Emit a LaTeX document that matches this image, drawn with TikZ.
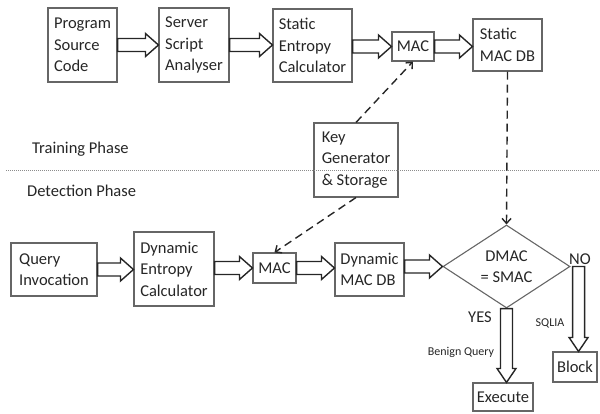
\documentclass[tikz,border=0pt]{standalone}
\usepackage{fontspec}
\setmainfont{Carlito}
\usepackage{tikz}
\usetikzlibrary{shapes.geometric,arrows.meta,calc}

\begin{document}
\begin{tikzpicture}[
    x=1pt, y=1pt,
    every node/.style={text=black!85, font=\fontsize{16.5}{21.5}\selectfont},
    box/.style={rectangle, draw=black!60, line width=1.1pt, align=left, inner sep=3pt},
    decision/.style={diamond, draw=black!60, line width=1.1pt, align=center, inner sep=0pt, aspect=1.5},
    phase/.style={anchor=west, inner sep=0pt},
    lbl/.style={inner sep=0pt},
    small/.style={inner sep=0pt, font=\fontsize{12}{14}\selectfont},
    keylink/.style={draw=black!85, line width=1.4pt, dash pattern=on 8pt off 5pt, -{Straight Barb[length=5pt,width=9pt]}},
    fatright/.style={draw=black!85, line width=1.4pt, line join=miter,
        to path={let \p1=(\tikztostart), \p2=(\tikztotarget) in
            (\x1,\y1+6.5pt) -- (\x2-13pt,\y1+6.5pt) -- (\x2-13pt,\y1+11.5pt) -- (\x2,\y1)
            -- (\x2-13pt,\y1-11.5pt) -- (\x2-13pt,\y1-6.5pt) -- (\x1,\y1-6.5pt) -- cycle}},
    fatdown/.style={draw=black!85, line width=1.4pt, line join=miter,
        to path={let \p1=(\tikztostart), \p2=(\tikztotarget) in
            (\x1-6pt,\y1) -- (\x1-6pt,\y2+14pt) -- (\x1-9.5pt,\y2+14pt) -- (\x1,\y2)
            -- (\x1+9.5pt,\y2+14pt) -- (\x1+6pt,\y2+14pt) -- (\x1+6pt,\y1) -- cycle}}
]
\useasboundingbox (0,0) rectangle (600,-413);

% Training row
\node[box, minimum width=69, minimum height=74] (prog) at (82.5,-45) {Program\\Source\\Code};
\node[box, minimum width=70, minimum height=74] (srv) at (194,-45) {Server\\Script\\Analyser};
\node[box, minimum width=79, minimum height=73] (sec) at (312.5,-45.5) {Static\\Entropy\\Calculator};
\node[box, minimum width=42, minimum height=29] (mac1) at (413,-46.5) {MAC};
\node[box, minimum width=69, minimum height=52] (smdb) at (507.5,-45) {Static\\MAC DB};

% Key store
\node[box, minimum width=84, minimum height=74] (key) at (356,-160) {Key\\Generator\\\& Storage};

% Phase separator
\draw[black!45, line width=1pt, dash pattern=on 1pt off 1pt] (6,-170) -- (600,-170);
\node[phase] (train) at (32,-149) {Training Phase};
\node[phase] (detect) at (27,-191) {Detection Phase};

% Detection row
\node[box, minimum width=86, minimum height=53] (query) at (54,-269.5) {Query\\Invocation};
\node[box, minimum width=80, minimum height=74] (dec) at (174,-269) {Dynamic\\Entropy\\Calculator};
\node[box, minimum width=43, minimum height=30] (mac2) at (274.5,-268) {MAC};
\node[box, minimum width=69, minimum height=53] (dmdb) at (369.5,-269.5) {Dynamic\\MAC DB};
\node[decision, minimum width=127, minimum height=83] (dia) at (506.5,-266.5) {DMAC\\= SMAC};
\node[box, minimum width=44, minimum height=30] (block) at (575,-367) {Block};
\node[box, minimum width=60, minimum height=28] (exec) at (503,-397) {Execute};

% Decision labels
\node[lbl] (no) at (580,-259) {NO};
\node[lbl] (yes) at (480,-317) {YES};
\node[small] (sqlia) at (550,-323) {SQLIA};
\node[small] (benign) at (461,-352) {Benign Query};

% Block arrows
\draw[fatright] (prog.east) to (srv.west);
\draw[fatright] (srv.east) to (sec.west);
\draw[fatright] (sec.east |- mac1.west) to (mac1.west);
\draw[fatright] (mac1.east) to (smdb.west |- mac1.east);
\draw[fatright] (query.east) to (dec.west |- query.east);
\draw[fatright] (dec.east |- mac2.west) to (mac2.west);
\draw[fatright] (mac2.east) to (dmdb.west |- mac2.east);
\draw[fatright] (dmdb.east |- dia.west) to (dia.west);
\draw[fatdown] (dia.south) to (exec.north);
\draw[fatdown] ([xshift=8pt]dia.east) to (block.north);

% Key and MAC DB links
\draw[keylink] (smdb.south) -- (dia.north);
\draw[keylink] (key.north) -- (mac1.south);
\draw[keylink] (key.south) -- (mac2.north);

\end{tikzpicture}
\end{document}
